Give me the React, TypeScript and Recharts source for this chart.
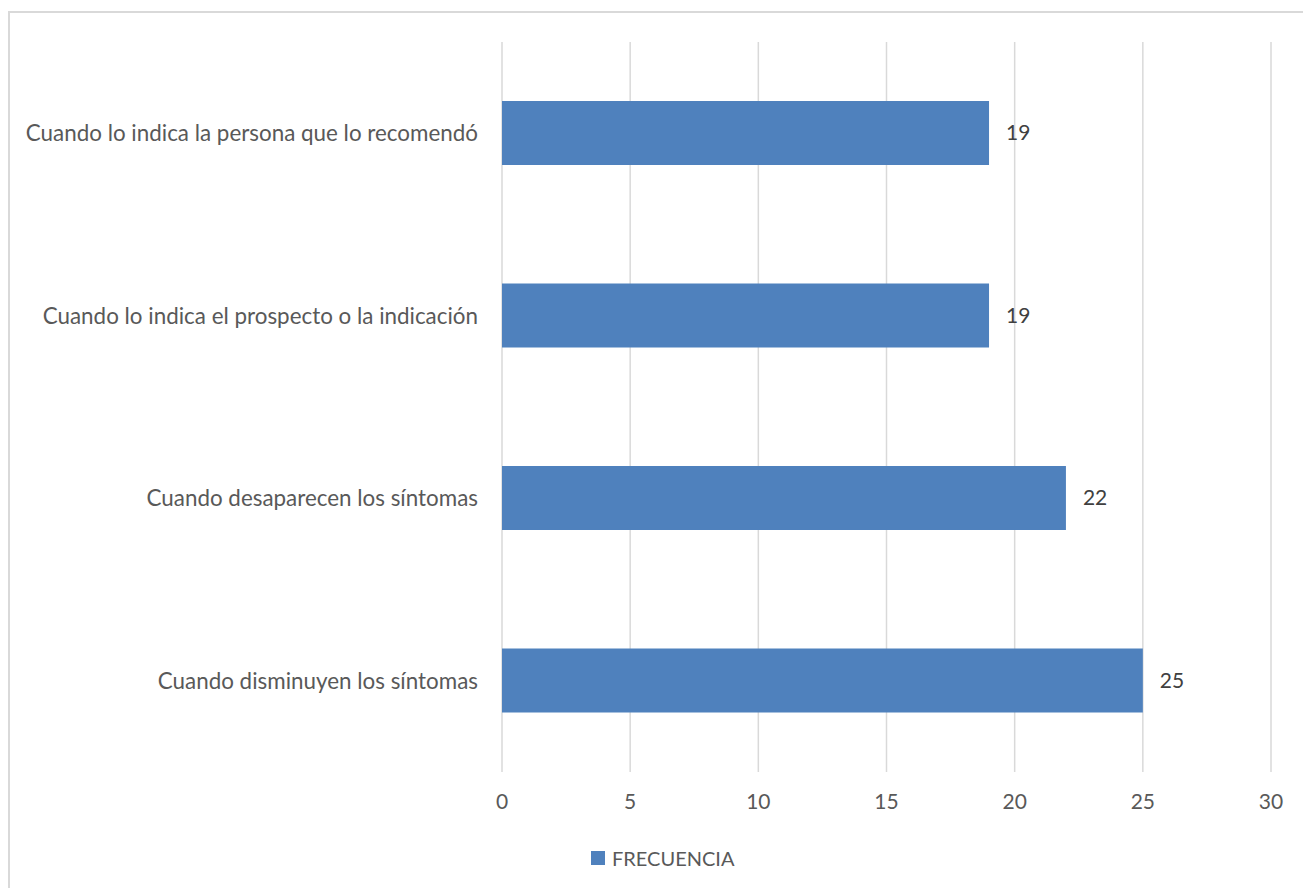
import { Bar, BarChart, CartesianGrid, LabelList, Legend, XAxis, YAxis } from "recharts";

const categorias = [
  "Cuando lo indica la persona que lo recomendó",
  "Cuando lo indica el prospecto o la indicación",
  "Cuando desaparecen los síntomas",
  "Cuando disminuyen los síntomas",
];
const frecuencia = [19, 19, 22, 25];
const ticksX = [0, 5, 10, 15, 20, 25, 30];

const BLUE = "#4F81BD";
const FONT = "Lato, 'Open Sans', sans-serif";

const data = categorias.map((c, i) => ({ categoria: c, FRECUENCIA: frecuencia[i] }));

// eslint-disable-next-line @typescript-eslint/no-explicit-any
function LegendBox({ payload }: any) {
  return (
    <div style={{ display: "flex", alignItems: "center", fontFamily: FONT, fontSize: 20, color: "#595959" }}>
      {(payload || []).map((p: any) => (
        <span key={p.value} style={{ display: "flex", alignItems: "center" }}>
          <span style={{ width: 14, height: 14, background: BLUE, marginRight: 7, display: "inline-block" }} />
          {p.value}
        </span>
      ))}
    </div>
  );
}

export default function App() {
  return (
    <div style={{ position: "fixed", left: 0, top: 0, width: 1303, height: 888, overflow: "hidden", background: "#fff" }}>
      <div
        style={{
          position: "absolute",
          left: 8,
          top: 11,
          width: 1400,
          height: 1000,
          border: "2px solid #D9D9D9",
        }}
      />
      <div style={{ position: "absolute", left: 0, top: 0 }}>
        <BarChart
          width={1303}
          height={888}
          data={data}
          layout="vertical"
          margin={{ top: 42, right: 32, left: 0, bottom: 18 }}
          barSize={64}
        >
          <CartesianGrid horizontal={false} stroke="#D9D9D9" strokeWidth={1.5} />
          <XAxis
            type="number"
            domain={[0, 30]}
            ticks={ticksX}
            axisLine={false}
            tickLine={false}
            tickSize={0}
            tickMargin={22}
            height={74}
            tick={{ fill: "#595959", fontSize: 21, fontFamily: FONT }}
          />
          <YAxis
            type="category"
            dataKey="categoria"
            width={502}
            axisLine={false}
            tickLine={false}
            tickSize={0}
            tickMargin={24}
            tick={{ fill: "#595959", fontSize: 22.4, fontFamily: FONT }}
          />
          <Legend verticalAlign="bottom" content={<LegendBox />} wrapperStyle={{ left: 591, width: "auto" }} />
          <Bar dataKey="FRECUENCIA" fill={BLUE} isAnimationActive={false}>
            <LabelList
              dataKey="FRECUENCIA"
              position="right"
              offset={17}
              fill="#404040"
              fontSize={21}
              fontFamily={FONT}
            />
          </Bar>
        </BarChart>
      </div>
    </div>
  );
}
